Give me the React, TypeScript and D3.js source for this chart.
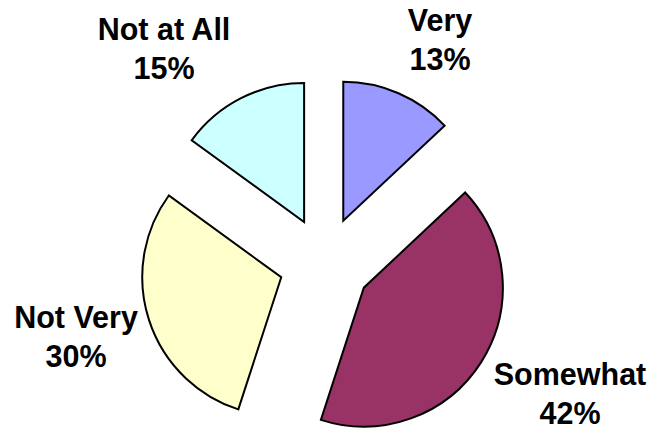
import React from "react";
import * as d3 from "d3";

const categories = ["Very", "Somewhat", "Not Very", "Not at All"];
const values = [13, 42, 30, 15];
const colors = ["#9999FF", "#993366", "#FFFFCC", "#CCFFFF"];
const labelText = ["13%", "42%", "30%", "15%"];

const W = 651;
const H = 430;
const cx = 325;
const cy = 263;
const R = 139;
const explode = 46;

const labelPos: [number, number][] = [
  [440, 31],
  [570, 385],
  [76, 328],
  [164, 40],
];

export default function App() {
  const pie = d3.pie<number>().sort(null).startAngle(0).endAngle(2 * Math.PI);
  const arcs = pie(values);
  const arc = d3.arc<d3.PieArcDatum<number>>().innerRadius(0).outerRadius(R);
  return (
    <svg width={W} height={H} style={{ position: "absolute", left: 0, top: 0 }}>
      <rect width={W} height={H} fill="#fff" />
      {arcs.map((a, i) => {
        const mid = (a.startAngle + a.endAngle) / 2;
        const dx = Math.sin(mid) * explode;
        const dy = -Math.cos(mid) * explode;
        return (
          <path
            key={categories[i]}
            d={arc(a) || ""}
            transform={`translate(${cx + dx},${cy + dy})`}
            fill={colors[i]}
            stroke="#000"
            strokeWidth={2}
            strokeLinejoin="miter"
          />
        );
      })}
      {categories.map((c, i) => (
        <text
          key={c}
          x={labelPos[i][0]}
          y={labelPos[i][1]}
          textAnchor="middle"
          fontFamily="'Liberation Sans', Arial, sans-serif"
          fontWeight="bold"
          fontSize={30.5}
          fill="#000"
        >
          <tspan x={labelPos[i][0]}>{c}</tspan>
          <tspan x={labelPos[i][0]} dy={38.5}>{labelText[i]}</tspan>
        </text>
      ))}
    </svg>
  );
}
